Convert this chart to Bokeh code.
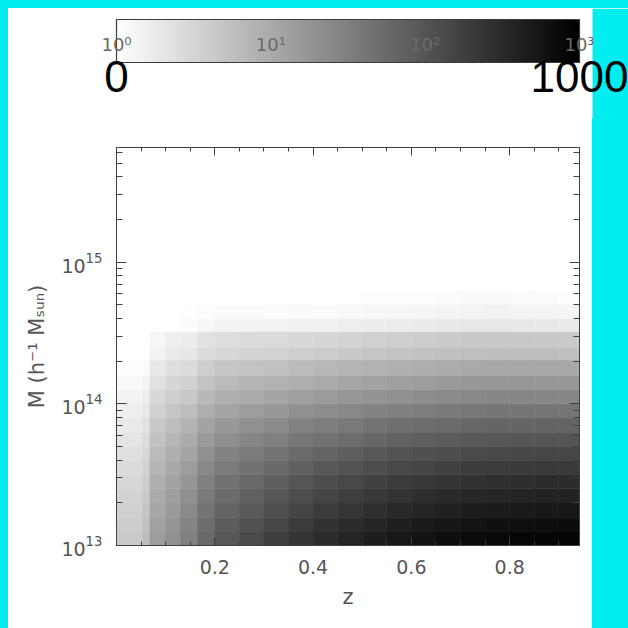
import numpy as np
from bokeh.plotting import figure
from bokeh.models import (Range1d, LogColorMapper, ColumnDataSource, LinearAxis, LogAxis,
                          FixedTicker, LogTicker, Spacer, BoxAnnotation, CustomJSTickFormatter)
from bokeh.layouts import row, column
from bokeh.core.properties import value
from bokeh.embed import file_html
from bokeh.resources import INLINE

# ---------------- data ----------------
z_edges = [0.0, 0.053, 0.068, 0.1, 0.13, 0.165, 0.2, 0.25, 0.3, 0.35, 0.4, 0.45,
           0.5, 0.55, 0.6, 0.65, 0.7, 0.75, 0.8, 0.85, 0.9, 0.942]
logm_edges = [13.0, 13.1, 13.2, 13.3, 13.4, 13.5, 13.6, 13.7, 13.8, 13.9, 14.0,
              14.1, 14.2, 14.31, 14.4, 14.51, 14.6, 14.7, 14.8, 15.81]
# counts[i][j]: z bin i, mass bin j (from low mass up)
counts = [
    [4.2, 3.9, 3.6, 3.3, 3.0, 2.7, 2.4, 2.1, 1.8, 1.6, 1.4, 1.2, 1.05, 0, 0, 0, 0, 0, 0],
    [5.8, 5.3, 4.8, 4.3, 3.9, 3.4, 3.0, 2.6, 2.2, 1.9, 1.6, 1.35, 1.15, 0, 0, 0, 0, 0, 0],
    [14.1, 12.7, 11.2, 9.8, 8.7, 7.4, 6.3, 5.2, 4.4, 3.5, 2.9, 2.3, 1.9, 1.4, 1.3, 0, 0, 0, 0],
    [20, 17.9, 15.6, 13.6, 12.0, 10.2, 8.7, 7.1, 5.9, 4.7, 3.8, 3.1, 2.5, 1.8, 1.6, 0, 0, 0, 0],
    [31.6, 27.9, 23.6, 20.3, 17.4, 14.4, 11.9, 9.5, 7.6, 5.9, 4.5, 3.5, 2.7, 1.95, 1.65, 1.1, 1.05, 0, 0],
    [60, 52, 43, 37, 31, 25, 20, 15.5, 12, 9, 6.8, 5.1, 3.8, 2.6, 2.2, 1.28, 1.06, 0, 0],
    [95, 82, 67, 55, 46, 36, 28.6, 21.6, 16.3, 11.9, 8.7, 6.4, 4.7, 3.0, 2.5, 1.4, 1.14, 0, 0],
    [132, 111, 90, 73, 60, 46.5, 36, 26.7, 19.7, 14.1, 10.1, 7.2, 5.1, 3.3, 2.6, 1.4, 1.13, 0, 0],
    [178, 149, 118, 95, 76, 58, 44.6, 32.3, 23.4, 16.3, 11.4, 8.0, 5.6, 3.4, 2.7, 1.4, 1.1, 0, 0],
    [240, 199, 155, 124, 99, 74.5, 56, 40, 28.4, 19.5, 13.3, 9.1, 6.3, 3.8, 2.9, 1.5, 1.15, 0, 0],
    [309, 254, 196, 155, 122, 91, 67, 47, 33, 22.2, 14.9, 10, 6.8, 4.0, 3.1, 1.5, 1.14, 0, 0],
    [372, 303, 233, 183, 143, 106, 78, 54, 37.7, 25.1, 16.7, 11.2, 7.4, 4.3, 3.3, 1.6, 1.2, 0, 0],
    [447, 363, 277, 216, 169, 124, 91, 62, 43, 28.4, 18.7, 12.4, 8.2, 4.7, 3.6, 1.66, 1.27, 1.05, 0],
    [525, 425, 322, 250, 194, 141, 103, 70, 48, 31.3, 20.5, 13.4, 8.8, 5.0, 3.8, 1.7, 1.3, 1.08, 0],
    [603, 485, 366, 282, 218, 157, 114, 77, 52, 33.9, 22, 14.3, 9.2, 5.2, 3.9, 1.75, 1.32, 1.08, 0],
    [676, 543, 408, 314, 242, 174, 125, 84.5, 57, 36.8, 23.8, 15.3, 9.9, 5.5, 4.1, 1.84, 1.38, 1.14, 0],
    [741, 594, 446, 342, 262, 188, 135, 91, 61, 39.2, 25.2, 16.2, 10.4, 5.7, 4.3, 1.9, 1.42, 1.17, 0],
    [794, 635, 475, 363, 278, 199, 142, 95, 64, 40.7, 26.1, 16.7, 10.7, 5.8, 4.4, 1.9, 1.43, 1.17, 0],
    [832, 664, 495, 378, 288, 205, 146, 97.5, 65, 41.4, 26.4, 16.8, 10.7, 5.8, 4.3, 1.9, 1.4, 1.14, 0],
    [871, 693, 515, 392, 299, 212, 151, 100, 66, 42, 26.6, 16.9, 10.7, 5.8, 4.3, 1.85, 1.37, 1.12, 0],
    [891, 708, 525, 398, 302, 214, 151, 100, 66, 41.7, 26.3, 16.6, 10.5, 5.6, 4.2, 1.78, 1.32, 1.07, 0],
]
x_ticks = [0.2, 0.4, 0.6, 0.8]
x_minor_ticks = [0.05, 0.1, 0.15, 0.25, 0.3, 0.35, 0.45, 0.5, 0.55, 0.65, 0.7, 0.75, 0.85, 0.9]
z_range = (0.0, 0.942)
logm_range = (13.0, 15.81)
count_low, count_high = 1, 1000
cbar_ticks = [1, 10, 100, 1000]
cbar_tick_labels = ["10\u2070", "10\u00b9", "10\u00b2", "10\u00b3"]
cbar_end_values = [1, 1000]
cbar_end_labels = ["0", "1000"]
x_label = "z"
y_label = "M (h\u207b\u00b9 M\u209b\u1d64\u2099)"

# ---------------- styling ----------------
CYAN = "#00eef0"
AX = "#404040"
LBL = "#555555"
grays = ["#%02x%02x%02x" % (g, g, g) for g in range(255, -1, -1)]
mapper = LogColorMapper(palette=grays, low=count_low, high=count_high,
                        low_color="white", nan_color="white")

# ---------------- colour bar figure ----------------
TOP_W, TOP_H = 620, 110
BAR_L, BAR_R = 108, 571          # canvas px of bar ends
BAR_B, BAR_T = 56, 99            # y (from bottom) of the bar
dec = (BAR_R - BAR_L) / np.log10(count_high / count_low)
lo = count_low * 10 ** (-BAR_L / dec)
hi = count_high * 10 ** ((TOP_W - BAR_R) / dec)

cb = figure(width=TOP_W, height=TOP_H, x_axis_type="log",
            x_range=Range1d(lo, hi), y_range=Range1d(0, TOP_H),
            output_backend="svg", toolbar_location=None, min_border=0,
            x_axis_location=None, y_axis_location=None, outline_line_color=None,
            background_fill_color="white", border_fill_color="white")
cb.grid.visible = False
cb.add_layout(BoxAnnotation(left=TOP_W - 36, left_units="screen", fill_color=CYAN,
                            fill_alpha=1.0, line_alpha=0, level="underlay"))
ramp = np.logspace(np.log10(count_low), np.log10(count_high), 463).reshape(1, -1)
cb.image(image=[ramp], x=count_low, y=BAR_B, dw=count_high - count_low,
         dh=BAR_T - BAR_B, color_mapper=mapper)
cb.quad(left=[count_low], right=[count_high], bottom=[BAR_B], top=[BAR_T],
        fill_color=None, line_color="#3a3a3a", line_width=1.2)
cb.text(x=cbar_ticks, y=[74] * len(cbar_ticks), text=cbar_tick_labels,
        text_align="center", text_baseline="middle",
        text_font=value("DejaVu Sans"), text_font_size="18px", text_color="#6a6a6a")
cb.text(x=cbar_end_values, y=[42, 42], text=cbar_end_labels,
        text_align="center", text_baseline="middle",
        text_font=value("Liberation Sans"), text_font_size="44px", text_color="black")

# ---------------- main figure ----------------
MW, MH = 584, 510
p = figure(width=MW, height=MH, x_range=Range1d(*z_range),
           y_range=Range1d(10 ** logm_range[0], 10 ** logm_range[1]), y_axis_type="log",
           output_backend="svg", toolbar_location=None,
           min_border_left=108, min_border_right=13, min_border_top=29, min_border_bottom=83,
           background_fill_color="white", border_fill_color="white",
           outline_line_color=AX)
p.grid.visible = False
bottom_axis = p.below[0]
left_axis = p.left[0]

src = dict(left=[], right=[], bottom=[], top=[], count=[])
for i in range(len(z_edges) - 1):
    for j in range(len(logm_edges) - 1):
        src["left"].append(z_edges[i])
        src["right"].append(z_edges[i + 1])
        src["bottom"].append(10 ** logm_edges[j])
        src["top"].append(10 ** logm_edges[j + 1])
        src["count"].append(counts[i][j])
cmap_field = {"field": "count", "transform": mapper}
p.quad(source=ColumnDataSource(src), left="left", right="right", bottom="bottom", top="top",
       fill_color=cmap_field, line_color=cmap_field, line_width=0.6)

xt = FixedTicker(ticks=x_ticks, minor_ticks=x_minor_ticks)
bottom_axis.ticker = xt
left_axis.ticker = LogTicker(num_minor_ticks=10)

top_axis = LinearAxis(ticker=xt, formatter=CustomJSTickFormatter(code="return ''"))
right_axis = LogAxis(ticker=LogTicker(num_minor_ticks=10),
                     formatter=CustomJSTickFormatter(code="return ''"))
p.add_layout(top_axis, "above")
p.add_layout(right_axis, "right")

for ax in [bottom_axis, top_axis]:
    ax.major_tick_in = 8
    ax.major_tick_out = 0
    ax.minor_tick_in = 4
    ax.minor_tick_out = 0
for ax in [left_axis, right_axis]:
    ax.major_tick_in = 10
    ax.major_tick_out = 0
    ax.minor_tick_in = 6
    ax.minor_tick_out = 0
for ax in [bottom_axis, top_axis, left_axis, right_axis]:
    ax.axis_line_color = AX
    ax.major_tick_line_color = AX
    ax.minor_tick_line_color = AX
    ax.major_label_text_font = "DejaVu Sans"
    ax.major_label_text_font_size = "19px"
    ax.major_label_text_color = LBL
    ax.axis_label_text_font = "DejaVu Sans"
    ax.axis_label_text_font_style = "normal"
    ax.axis_label_text_color = LBL
for ax in [top_axis, right_axis]:
    ax.major_label_standoff = 0

bottom_axis.axis_label = x_label
bottom_axis.axis_label_text_font_size = "21px"
bottom_axis.major_label_standoff = 14
bottom_axis.axis_label_standoff = 8
left_axis.axis_label = y_label
left_axis.axis_label_text_font_size = "21px"
left_axis.major_label_standoff = 14
left_axis.axis_label_standoff = 9

# ---------------- page ----------------
cy = {"background-color": CYAN}
layout = row(
    Spacer(width=8, height=628, styles=cy),
    column(
        Spacer(width=620, height=8, styles=cy),
        cb,
        row(p, Spacer(width=36, height=MH, styles=cy)),
    ),
)

open("out.html", "w").write(file_html(layout, INLINE))
